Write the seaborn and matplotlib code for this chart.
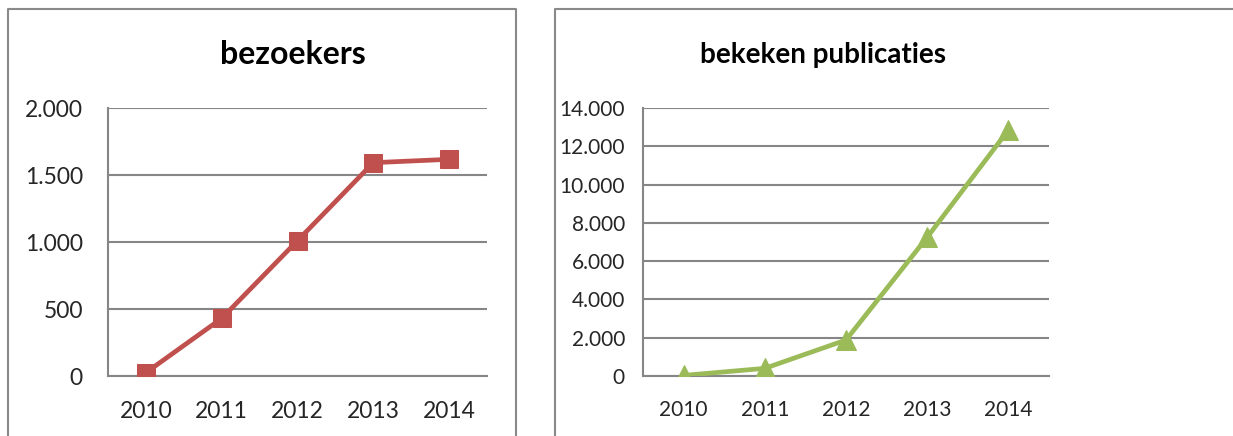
import matplotlib
matplotlib.use('Agg')
import matplotlib.pyplot as plt
import matplotlib.ticker as mticker
from matplotlib.lines import Line2D
import seaborn as sns
import pandas as pd

jaren = [2010, 2011, 2012, 2013, 2014]
bezoekers = [25, 430, 1010, 1592, 1617]
publicaties = [30, 400, 1880, 7250, 12850]

sns.set_style('white')
plt.rcParams['font.family'] = ['Lato', 'DejaVu Sans']

fig = plt.figure(figsize=(12.33, 4.36), dpi=100)
W, H = 1233, 436

def px(x0, y0, x1, y1):
    # pixels -> figure fraction [left, bottom, width, height]
    return [x0 / W, 1 - y1 / H, (x1 - x0) / W, (y1 - y0) / H]

def dots(v, pos):
    return '{:,.0f}'.format(v).replace(',', '.')

def lijn(xs, ys):
    fig.add_artist(Line2D([x / W for x in xs], [1 - y / H for y in ys],
                          color='#898989', linewidth=1.5))

# kaders rond de grafieken
lijn([8, 8, 516, 516], [440, 9, 9, 440])
lijn([555, 555, 1240], [440, 9, 9])

grijs = '#868686'

def teken(rect, waarden, ymax, stap, kleur, marker, ms, titel, tx, tfs, fs, xpad, ypad):
    ax = fig.add_axes(px(*rect))
    df = pd.DataFrame({'jaar': jaren, 'waarde': waarden})
    sns.lineplot(data=df, x='jaar', y='waarde', ax=ax, color=kleur, linewidth=3.4,
                 marker=marker, markersize=ms, markeredgecolor=kleur, zorder=3)
    ax.set_xlim(jaren[0] - 0.5, jaren[-1] + 0.5)
    ax.set_ylim(0, ymax)
    ax.yaxis.set_major_locator(mticker.MultipleLocator(stap))
    ax.yaxis.set_major_formatter(mticker.FuncFormatter(dots))
    ax.set_xticks([j - 0.5 for j in jaren] + [jaren[-1] + 0.5])
    ax.set_xticklabels([])
    ax.set_xticks(jaren, minor=True)
    ax.set_xticklabels([str(j) for j in jaren], minor=True)
    ax.tick_params(axis='x', which='major', length=7, width=1.5, color=grijs, direction='out')
    ax.tick_params(axis='x', which='minor', length=0, pad=xpad, labelsize=fs)
    ax.tick_params(axis='y', length=7, width=1.5, color=grijs, direction='out', labelsize=fs, pad=ypad)
    ax.grid(axis='y', color=grijs, linewidth=1.5)
    ax.grid(axis='x', visible=False)
    for s in ['top', 'right']:
        ax.spines[s].set_visible(False)
    for s in ['left', 'bottom']:
        ax.spines[s].set_color(grijs)
        ax.spines[s].set_linewidth(1.5)
    ax.set_xlabel('')
    ax.set_ylabel('')
    fig.text(tx / W, 1 - 55 / H, titel, ha='center', va='center',
             fontsize=tfs, fontweight='bold', color='black')
    return ax

teken((108, 108, 487, 376), bezoekers, 2000, 500, '#C0504D', 's', 13, 'bezoekers', 293, 23, 16.5, 18, 11)
teken((643, 108, 1049, 376), publicaties, 14000, 2000, '#9BBB59', '^', 15, 'bekeken publicaties', 823, 20, 15, 17, 6)

fig.savefig('out.png', dpi=100)
